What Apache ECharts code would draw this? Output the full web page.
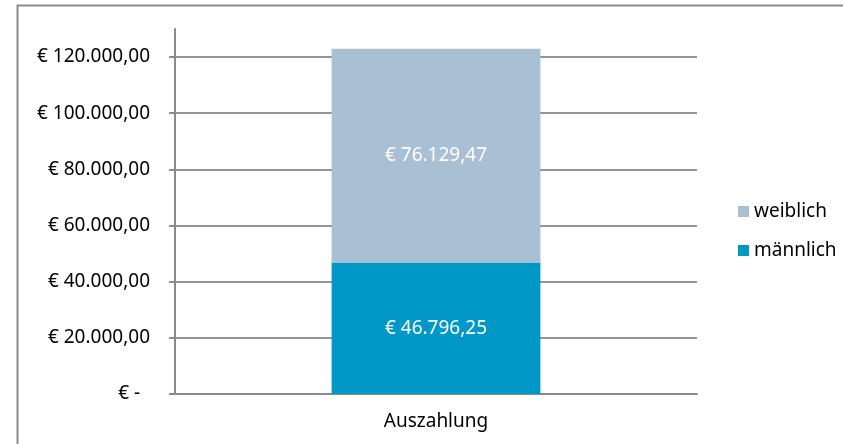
<head>
    <meta charset="UTF-8">
    <title>Auszahlung</title>
    <script src="https://cdn.jsdelivr.net/npm/echarts@6/dist/echarts.min.js"></script>
    <style>
        body { margin: 0; background: #fff; }
    </style>
</head>
<body>
    <div id="main" style="width: 843px;height:444px;"></div>
    <script type="text/javascript">
        var categories = ['Auszahlung'];
        var maennlich = [46796.25];
        var weiblich = [76129.47];
        var yTicks = [0, 20000, 40000, 60000, 80000, 100000, 120000];

        // deutsches Zahlenformat: € 1.234,56
        function euro(v) {
            if (v === 0) return '€ -  ';
            var parts = v.toFixed(2).split('.');
            var int = parts[0].replace(/\B(?=(\d{3})+(?!\d))/g, '.');
            return '€ ' + int + ',' + parts[1];
        }

        var font = 'Noto Sans';
        var fs = 19;
        var myChart = echarts.init(document.getElementById('main'));

        myChart.setOption({
            animation: false,
            textStyle: { fontFamily: font },
            graphic: [{
                type: 'rect',
                shape: { x: 17.5, y: 5.5, width: 900, height: 500 },
                style: { fill: 'none', stroke: '#8c8c8c', lineWidth: 2 },
                silent: true
            }],
            grid: { left: 175, right: 146, top: 29, bottom: 50 },
            legend: {
                orient: 'vertical',
                left: 733,
                top: 197,
                itemWidth: 11,
                itemHeight: 11,
                itemGap: 20,
                icon: 'rect',
                data: ['weiblich', 'männlich'],
                textStyle: { fontFamily: font, fontSize: fs, color: '#000' }
            },
            xAxis: {
                type: 'category',
                data: categories,
                axisLine: { lineStyle: { color: '#8a8a8a', width: 2 } },
                axisTick: { length: 6, lineStyle: { color: '#8a8a8a', width: 2 } },
                axisLabel: { margin: 18, fontSize: fs, color: '#000', fontFamily: font }
            },
            yAxis: {
                type: 'value',
                min: 0,
                max: 130000,
                interval: 20000,
                axisLine: { show: true, lineStyle: { color: '#8a8a8a', width: 2 } },
                axisTick: { show: true, length: 6, customValues: yTicks,
                    lineStyle: { color: '#8a8a8a', width: 2 } },
                splitLine: { show: true, lineStyle: { color: '#959595', width: 2 } },
                axisLabel: {
                    margin: 25,
                    fontSize: fs,
                    color: '#000',
                    fontFamily: font,
                    customValues: yTicks,
                    formatter: euro
                }
            },
            series: [{
                name: 'männlich',
                type: 'bar',
                stack: 'summe',
                barWidth: '40%',
                data: maennlich,
                itemStyle: { color: '#0098c6' },
                label: { show: true, position: 'inside', color: '#fff', fontSize: fs,
                    fontFamily: font, formatter: function (p) { return euro(p.value); } }
            }, {
                name: 'weiblich',
                type: 'bar',
                stack: 'summe',
                barWidth: '40%',
                data: weiblich,
                itemStyle: { color: '#a9bfd3' },
                label: { show: true, position: 'inside', color: '#fff', fontSize: fs,
                    fontFamily: font, formatter: function (p) { return euro(p.value); } }
            }]
        });
    </script>
</body>
